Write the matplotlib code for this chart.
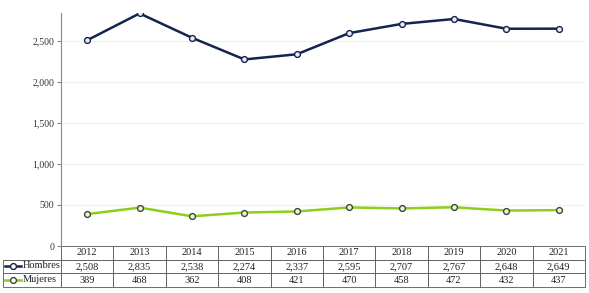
import matplotlib.pyplot as plt
from matplotlib.lines import Line2D

years = ['2012', '2013', '2014', '2015', '2016', '2017', '2018', '2019', '2020', '2021']
hombres = [2508, 2835, 2538, 2274, 2337, 2595, 2707, 2767, 2648, 2649]
mujeres = [389, 468, 362, 408, 421, 470, 458, 472, 432, 437]
series_names = ['Hombres', 'Mujeres']
yticks = [0, 500, 1000, 1500, 2000, 2500]

navy = '#13244f'
green = '#8ccf1a'

plt.rcParams['font.family'] = ['Liberation Serif', 'DejaVu Serif']

W, H = 589, 293
fig = plt.figure(figsize=(W / 100, H / 100), dpi=100)

# plot area in pixels
x0, x1 = 61, 585
ytop, ybot = 13, 246
ax = fig.add_axes([x0 / W, 1 - ybot / H, (x1 - x0) / W, (ybot - ytop) / H])

x = list(range(len(years)))
ax.plot(x, hombres, color=navy, lw=1.8, marker='o', ms=4.2,
        mfc='#e4f0f6', mec=navy, mew=1.0, zorder=3)
ax.plot(x, mujeres, color=green, lw=1.8, marker='o', ms=4.2,
        mfc='#f0f4e4', mec='#3d4a28', mew=1.0, zorder=3)

ax.set_xlim(-0.5, len(years) - 0.5)
ax.set_ylim(0, 2840)
ax.set_yticks(yticks)
ax.set_yticklabels([f'{v:,}' for v in yticks], fontsize=7, color='#333333')
ax.set_xticks([])
ax.grid(axis='y', color='#f0f0f0', lw=0.8)
ax.set_axisbelow(True)
for s in ['top', 'right', 'bottom']:
    ax.spines[s].set_visible(False)
ax.spines['left'].set_color('#888888')
ax.tick_params(axis='y', length=3, color='#888888', pad=2)

# data table under the plot
label_w = x0 - 3
col_w = (x1 - x0) / len(years)
row_h = [13, 14, 14]
tot_h = sum(row_h)
cell_text = [[''] + years,
             [''] + [f'{v:,}' for v in hombres],
             [''] + [f'{v:,}' for v in mujeres]]
tbl = ax.table(cellText=cell_text,
               colWidths=[label_w] + [col_w] * len(years),
               cellLoc='center',
               bbox=[(3 - x0) / (x1 - x0), -tot_h / (ybot - ytop),
                     (x1 - 3) / (x1 - x0), tot_h / (ybot - ytop)])
tbl.auto_set_font_size(False)
for (r, c), cell in tbl.get_celld().items():
    cell.set_linewidth(0.6)
    cell.set_edgecolor('#555555')
    cell.get_text().set_fontsize(7.5)
    cell.get_text().set_color('#222222')
tbl[0, 0].visible_edges = 'BR'
tbl[0, 0].set_edgecolor('#555555')

# row labels with legend keys
for i, (name, col, mec) in enumerate([(series_names[0], navy, navy),
                                      (series_names[1], green, '#3d4a28')]):
    yc = ybot + row_h[0] + sum(row_h[1:1 + i]) + row_h[1 + i] / 2
    yf = 1 - yc / H
    fig.add_artist(Line2D([5 / W, 21 / W], [yf, yf], color=col, lw=1.8,
                          transform=fig.transFigure))
    fig.add_artist(Line2D([13 / W], [yf], marker='o', ms=4.2, mfc='white',
                          mec=mec, mew=1.0, color=col, transform=fig.transFigure))
    fig.text(23 / W, yf, name, fontsize=7.5, color='#222222', va='center', ha='left')

fig.savefig('out.png', dpi=100)
